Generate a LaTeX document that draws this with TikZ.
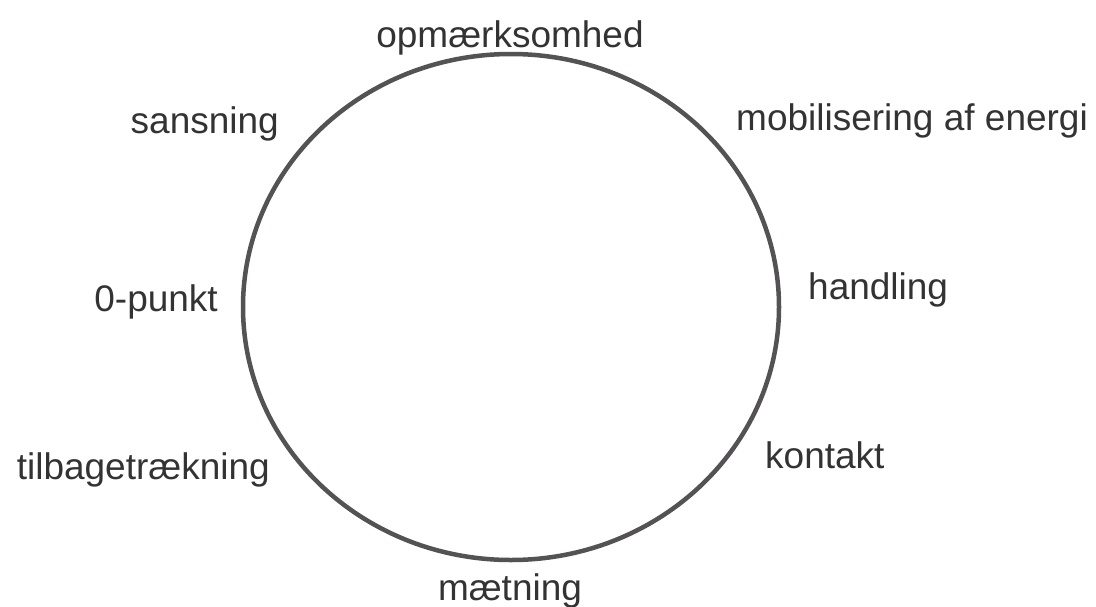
\documentclass[tikz,border=0pt]{standalone}
\usepackage{fontspec}
\setmainfont{Liberation Sans}
\usetikzlibrary{positioning}
\definecolor{Ring}{HTML}{545254}
\definecolor{Ink}{HTML}{333333}

\begin{document}
\begin{tikzpicture}[x=1pt,y=-1pt,lbl/.style={text=Ink,font=\fontsize{37}{44}\selectfont,inner sep=0pt}]
\useasboundingbox(0,0)rectangle(1096,606);
\draw[Ring,line width=4.5pt](511,307)ellipse[x radius=268pt,y radius=253pt];
\node[lbl,anchor=base](opm)at(510,47){opmærksomhed};
\node[lbl,anchor=base west](mob)at(736,130){mobilisering af energi};
\node[lbl,anchor=base east](sans)at(279,133){sansning};
\node[lbl,anchor=base west](hand)at(808,299){handling};
\node[lbl,anchor=base east](nul)at(218,311){0-punkt};
\node[lbl,anchor=base west](kont)at(765,468){kontakt};
\node[lbl,anchor=base east](tilb)at(270,479){tilbagetrækning};
\node[lbl,anchor=base](maet)at(510,600){mætning};
\end{tikzpicture}
\end{document}
